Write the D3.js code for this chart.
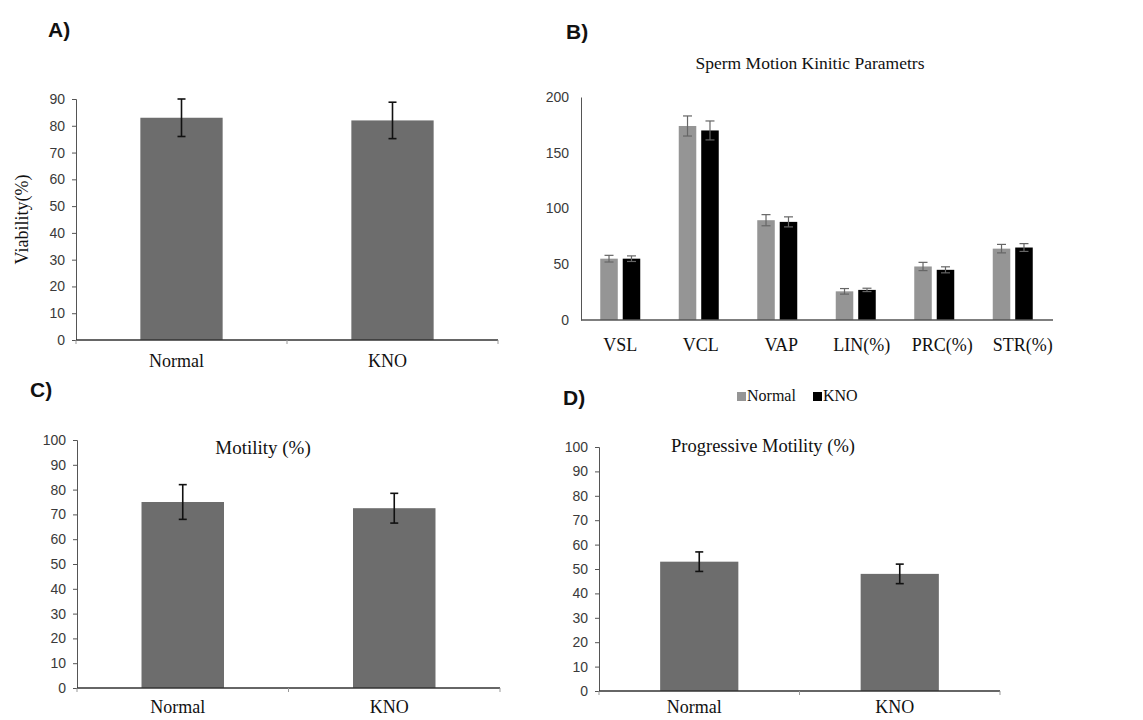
<!DOCTYPE html>
<html>
<head>
<meta charset="utf-8">
<script src="https://cdn.jsdelivr.net/npm/d3@7"></script>
<style>
  body { margin: 0; background: #fff; }
  svg { display: block; }
</style>
</head>
<body>
<svg id="canvas" width="1143" height="720"></svg>
<script>
// Panel A: viability
const groupCats = ['Normal', 'KNO'];
const viabilityMean = [83, 82];
const viabilityErr = [7, 6.8];

// Panel B: kinetic parameters
const kineticCats = ['VSL', 'VCL', 'VAP', 'LIN(%)', 'PRC(%)', 'STR(%)'];
const kineticSeries = ['Normal', 'KNO'];
const kineticNormal = [55, 174, 89.5, 25.7, 48, 64];
const kineticNormalErr = [3, 9, 5, 2.5, 3.7, 3.8];
const kineticKNO = [55, 170, 88, 27, 45, 65];
const kineticKNOErr = [2.5, 8.5, 4.5, 1.5, 2.7, 3.5];

// Panel C: motility
const motilityMean = [75, 72.5];
const motilityErr = [7, 6];

// Panel D: progressive motility
const progMean = [53, 48];
const progErr = [4, 4];

const sans = 'Liberation Sans, Arial, sans-serif';
const serif = 'Liberation Serif, Times New Roman, serif';

const svg = d3.select('#canvas');

function panelLabel (text, x, y) {
  svg.append('text')
    .attr('x', x).attr('y', y)
    .attr('font-family', sans)
    .attr('font-weight', 'bold')
    .attr('font-size', 21)
    .attr('fill', '#111')
    .text(text);
}

function drawSimple (o) {
  let g = svg.append('g');
  let x = d3.scaleBand().domain(groupCats)
    .range([o.left, o.right])
    .paddingInner(0.61).paddingOuter(0.305);
  let y = d3.scaleLinear().domain([0, o.max]).range([o.bottom, o.top]);

  // y axis
  let yAxis = g.append('g')
    .attr('transform', 'translate(' + o.left + ',0)')
    .call(d3.axisLeft(y).tickValues(d3.range(0, o.max + 1, 10)).tickSize(4).tickPadding(7));
  yAxis.select('.domain').attr('stroke', '#555').attr('stroke-width', 1);
  yAxis.selectAll('.tick line').attr('stroke', '#555');
  yAxis.selectAll('.tick text')
    .attr('font-family', sans).attr('font-size', 14).attr('fill', '#3a3a3a');

  // bars
  g.selectAll('rect.bar').data(o.mean).enter().append('rect')
    .attr('class', 'bar')
    .attr('x', (d, i) => x(groupCats[i]))
    .attr('y', d => y(d))
    .attr('width', x.bandwidth())
    .attr('height', d => y(0) - y(d))
    .attr('fill', '#6d6d6d');

  // x axis line and boundary ticks
  g.append('line')
    .attr('x1', o.left).attr('x2', o.right)
    .attr('y1', y(0)).attr('y2', y(0))
    .attr('stroke', '#333').attr('stroke-width', 1.6);
  let step = x.step();
  g.selectAll('line.xt').data([0, 1, 2]).enter().append('line')
    .attr('class', 'xt')
    .attr('x1', d => o.left + d * step).attr('x2', d => o.left + d * step)
    .attr('y1', y(0)).attr('y2', y(0) + 4)
    .attr('stroke', '#999').attr('stroke-width', 1);

  // error bars
  let eb = g.selectAll('g.err').data(o.mean).enter().append('g').attr('class', 'err');
  let cx = (d, i) => x(groupCats[i]) + x.bandwidth() / 2;
  eb.append('line')
    .attr('x1', cx).attr('x2', cx)
    .attr('y1', (d, i) => y(d + o.err[i]))
    .attr('y2', (d, i) => y(d - o.err[i]))
    .attr('stroke', '#111').attr('stroke-width', 1.6);
  [1, -1].forEach(s => {
    eb.append('line')
      .attr('x1', (d, i) => cx(d, i) - 4).attr('x2', (d, i) => cx(d, i) + 4)
      .attr('y1', (d, i) => y(d + s * o.err[i]))
      .attr('y2', (d, i) => y(d + s * o.err[i]))
      .attr('stroke', '#111').attr('stroke-width', 1.6);
  });

  // category labels
  g.selectAll('text.cat').data(groupCats).enter().append('text')
    .attr('class', 'cat')
    .attr('x', d => x(d) + x.bandwidth() / 2 - 5)
    .attr('y', Math.min(y(0) + 27, 713))
    .attr('text-anchor', 'middle')
    .attr('font-family', serif).attr('font-size', 18).attr('fill', '#111')
    .text(d => d);

  if (o.title) {
    g.append('text')
      .attr('x', o.titleX).attr('y', o.titleY)
      .attr('text-anchor', 'middle')
      .attr('font-family', serif).attr('font-size', o.titleSize || 18).attr('fill', '#111')
      .text(o.title);
  }
  if (o.yLabel) {
    g.append('text')
      .attr('transform', 'translate(28,' + ((o.top + o.bottom) / 2) + ') rotate(-90)')
      .attr('text-anchor', 'middle')
      .attr('font-family', serif).attr('font-size', 18).attr('fill', '#111')
      .text(o.yLabel);
  }
}

function drawKinetic () {
  let g = svg.append('g');
  let left = 581, right = 1052, top = 97, bottom = 320;
  let x0 = d3.scaleBand().domain(kineticCats).range([left, right]);
  let x1 = d3.scaleBand().domain(kineticSeries).range([0, 40]).paddingInner(0.22);
  let y = d3.scaleLinear().domain([0, 200]).range([bottom, top]);
  let color = d3.scaleOrdinal().domain(kineticSeries).range(['#959595', '#000000']);
  let off = (x0.bandwidth() - 40) / 2;

  let yAxis = g.append('g')
    .attr('transform', 'translate(' + left + ',0)')
    .call(d3.axisLeft(y).tickValues([0, 50, 100, 150, 200]).tickSize(0).tickPadding(12));
  yAxis.select('.domain').attr('stroke', '#555').attr('stroke-width', 1);
  yAxis.selectAll('.tick text')
    .attr('font-family', sans).attr('font-size', 14).attr('fill', '#3a3a3a');

  let rows = kineticCats.map((c, i) => ({
    cat: c,
    vals: [
      { s: 'Normal', v: kineticNormal[i], e: kineticNormalErr[i] },
      { s: 'KNO', v: kineticKNO[i], e: kineticKNOErr[i] }
    ]
  }));

  let grp = g.selectAll('g.grp').data(rows).enter().append('g')
    .attr('class', 'grp')
    .attr('transform', d => 'translate(' + (x0(d.cat) + off) + ',0)');
  let bar = grp.selectAll('g.b').data(d => d.vals).enter().append('g').attr('class', 'b');
  bar.append('rect')
    .attr('x', d => x1(d.s))
    .attr('y', d => y(d.v))
    .attr('width', x1.bandwidth())
    .attr('height', d => y(0) - y(d.v))
    .attr('fill', d => color(d.s));
  let bx = d => x1(d.s) + x1.bandwidth() / 2;
  bar.append('line')
    .attr('x1', bx).attr('x2', bx)
    .attr('y1', d => y(d.v + d.e)).attr('y2', d => y(d.v - d.e))
    .attr('stroke', '#666').attr('stroke-width', 1.2);
  [1, -1].forEach(s => {
    bar.append('line')
      .attr('x1', d => bx(d) - 4.5).attr('x2', d => bx(d) + 4.5)
      .attr('y1', d => y(d.v + s * d.e)).attr('y2', d => y(d.v + s * d.e))
      .attr('stroke', '#666').attr('stroke-width', 1.2);
  });

  g.append('line')
    .attr('x1', left).attr('x2', right + 1)
    .attr('y1', bottom).attr('y2', bottom)
    .attr('stroke', '#555').attr('stroke-width', 1.4);

  g.selectAll('text.cat').data(kineticCats).enter().append('text')
    .attr('class', 'cat')
    .attr('x', (d, i) => x0(d) + x0.bandwidth() / 2 + i * 2)
    .attr('y', 351)
    .attr('text-anchor', 'middle')
    .attr('font-family', serif).attr('font-size', 18).attr('fill', '#111')
    .text(d => d);

  g.append('text')
    .attr('x', 810).attr('y', 69)
    .attr('text-anchor', 'middle')
    .attr('font-family', serif).attr('font-size', 17.5).attr('fill', '#111')
    .text('Sperm Motion Kinitic Parametrs');

  // legend
  let legX = [737, 813];
  let leg = g.selectAll('g.leg').data(kineticSeries).enter().append('g')
    .attr('class', 'leg')
    .attr('transform', (d, i) => 'translate(' + legX[i] + ',401)');
  leg.append('rect')
    .attr('x', 0).attr('y', -9).attr('width', 9).attr('height', 9)
    .attr('fill', d => color(d));
  leg.append('text')
    .attr('x', 10).attr('y', 0)
    .attr('font-family', serif).attr('font-size', 16).attr('fill', '#111')
    .text(d => d);
}

panelLabel('A)', 48, 37);
panelLabel('B)', 566, 39);
panelLabel('C)', 30, 397);
panelLabel('D)', 563, 405);

drawSimple({
  left: 76, right: 498, top: 99, bottom: 340, max: 90,
  mean: viabilityMean, err: viabilityErr,
  yLabel: 'Viability(%)'
});

drawKinetic();

drawSimple({
  left: 77, right: 500, top: 440, bottom: 688, max: 100,
  mean: motilityMean, err: motilityErr,
  title: 'Motility (%)', titleX: 263, titleY: 454, titleSize: 19
});

drawSimple({
  left: 599, right: 1000, top: 447, bottom: 691, max: 100,
  mean: progMean, err: progErr,
  title: 'Progressive Motility (%)', titleX: 763, titleY: 452, titleSize: 18.5
});
</script>
</body>
</html>
